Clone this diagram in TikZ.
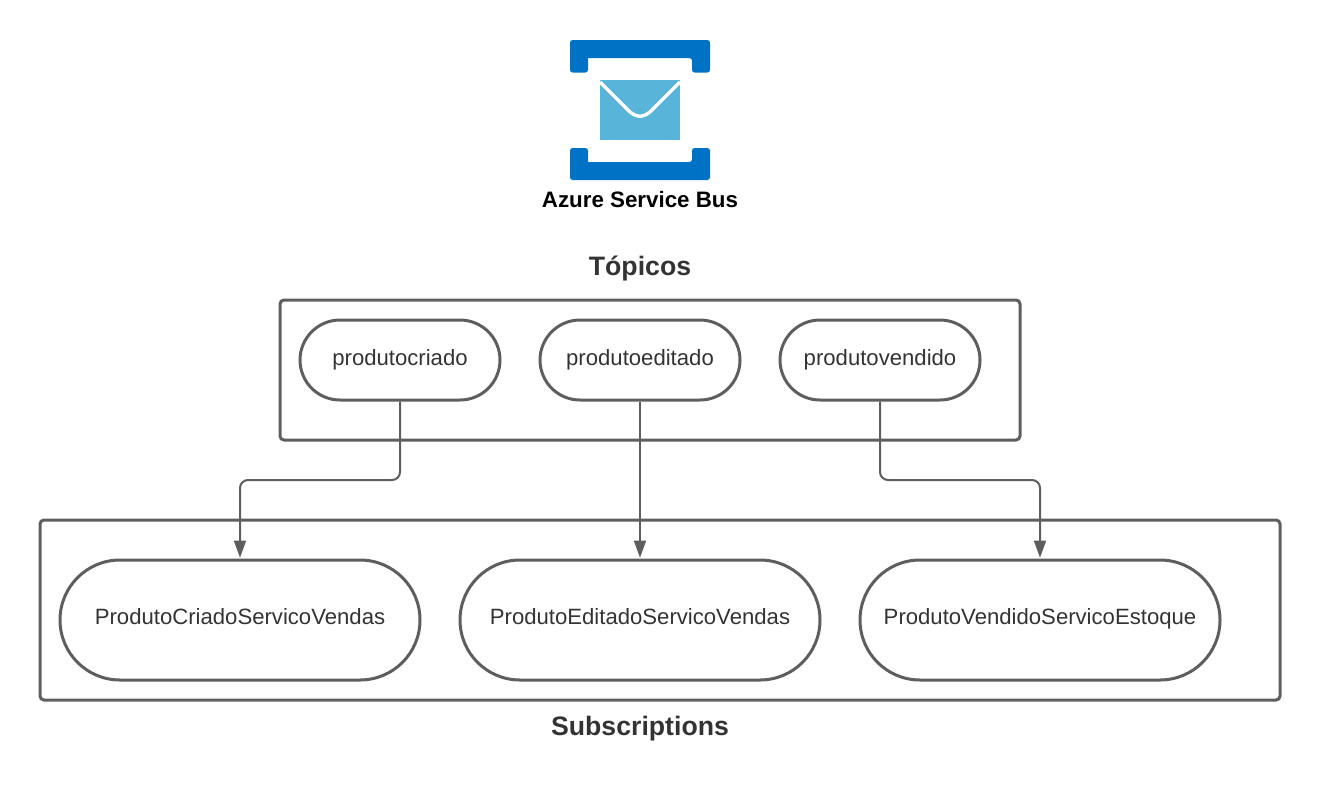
\documentclass[tikz,border=0pt]{standalone}
\usepackage{fontspec}
\setmainfont{Liberation Sans}
\usetikzlibrary{positioning}
\usetikzlibrary{arrows.meta}
\definecolor{linegray}{HTML}{5E5E5E}
\definecolor{textgray}{HTML}{333333}
\definecolor{busblue}{HTML}{0072C6}
\definecolor{mailblue}{HTML}{59B4D9}
\begin{document}
\begin{tikzpicture}[
      x=0.75pt,y=-0.75pt,
      group/.style={draw=linegray,line width=2.25pt,rounded corners=3pt,inner sep=0pt},
      topic/.style={draw=linegray,line width=2.25pt,rounded corners=30pt,inner sep=0pt,
        minimum width=150pt,minimum height=60pt,text height=13pt,text depth=5.5pt,
        font=\fontsize{16.6}{20}\selectfont,text=textgray},
      sub/.style={draw=linegray,line width=2.25pt,rounded corners=45pt,inner sep=0pt,
        minimum width=270pt,minimum height=90pt,text height=13pt,text depth=7pt,
        font=\fontsize{16.6}{20}\selectfont,text=textgray},
      heading/.style={font=\fontsize{20}{24}\selectfont\bfseries,text=textgray,inner sep=0pt},
      conn/.style={draw=linegray,line width=1.5pt,rounded corners=6pt,
        -{Triangle[length=13pt,width=9pt]},shorten >=0.5pt},
    ]
        \useasboundingbox (0,0) rectangle (1320,800);
        % icon
        \fill[busblue,rounded corners=2pt] (570,40) -- (710,40) -- (710,72.5) -- (692,72.5)
            -- (692,58) [sharp corners] -- (588,58) [rounded corners=2pt] -- (588,72.5) -- (570,72.5) -- cycle;
        \fill[busblue,rounded corners=2pt] (570,180) -- (710,180) -- (710,148) -- (692,148)
            -- (692,162) [sharp corners] -- (588,162) [rounded corners=2pt] -- (588,148) -- (570,148) -- cycle;
        \fill[mailblue] (600,80) rectangle (680,140);
        \draw[white,line width=2.5pt] (600,82) -- (626,108)
            .. controls (636,119) and (644,119) .. (654,108) -- (680,82);
        \node[font=\fontsize{16.75}{20}\selectfont\bfseries,inner sep=0pt] (busLabel) at (640,199.5) {Azure Service Bus};
        % topicos
        \node[heading] (topicTitle) at (640,268.5) {Tópicos};
        \node[group,minimum width=555pt,minimum height=105pt] (topicBox) at (650,370) {};
        \node[topic] (topicA) at (400,360) {produtocriado};
        \node[topic,right=27.75pt of topicA] (topicB) {produtoeditado};
        \node[topic,right=27.75pt of topicB] (topicC) {produtovendido};
        % subscriptions
        \node[group,minimum width=930pt,minimum height=135pt] (subBox) at (660,610) {};
        \node[sub] (subA) at (240,620) {ProdutoCriadoServicoVendas};
        \node[sub,right=27.75pt of subA] (subB) {ProdutoEditadoServicoVendas};
        \node[sub,right=27.75pt of subB] (subC) {ProdutoVendidoServicoEstoque};
        \node[heading] (subTitle) at (640,728.5) {Subscriptions};
        % ligacoes
        \coordinate (midA) at (320,480);
        \coordinate (midC) at (960,480);
        \draw[conn] (topicA.south) |- (midA) -| (subA.north);
        \draw[conn] (topicB.south) -- (subB.north);
        \draw[conn] (topicC.south) |- (midC) -| (subC.north);
    \end{tikzpicture}
\end{document}
